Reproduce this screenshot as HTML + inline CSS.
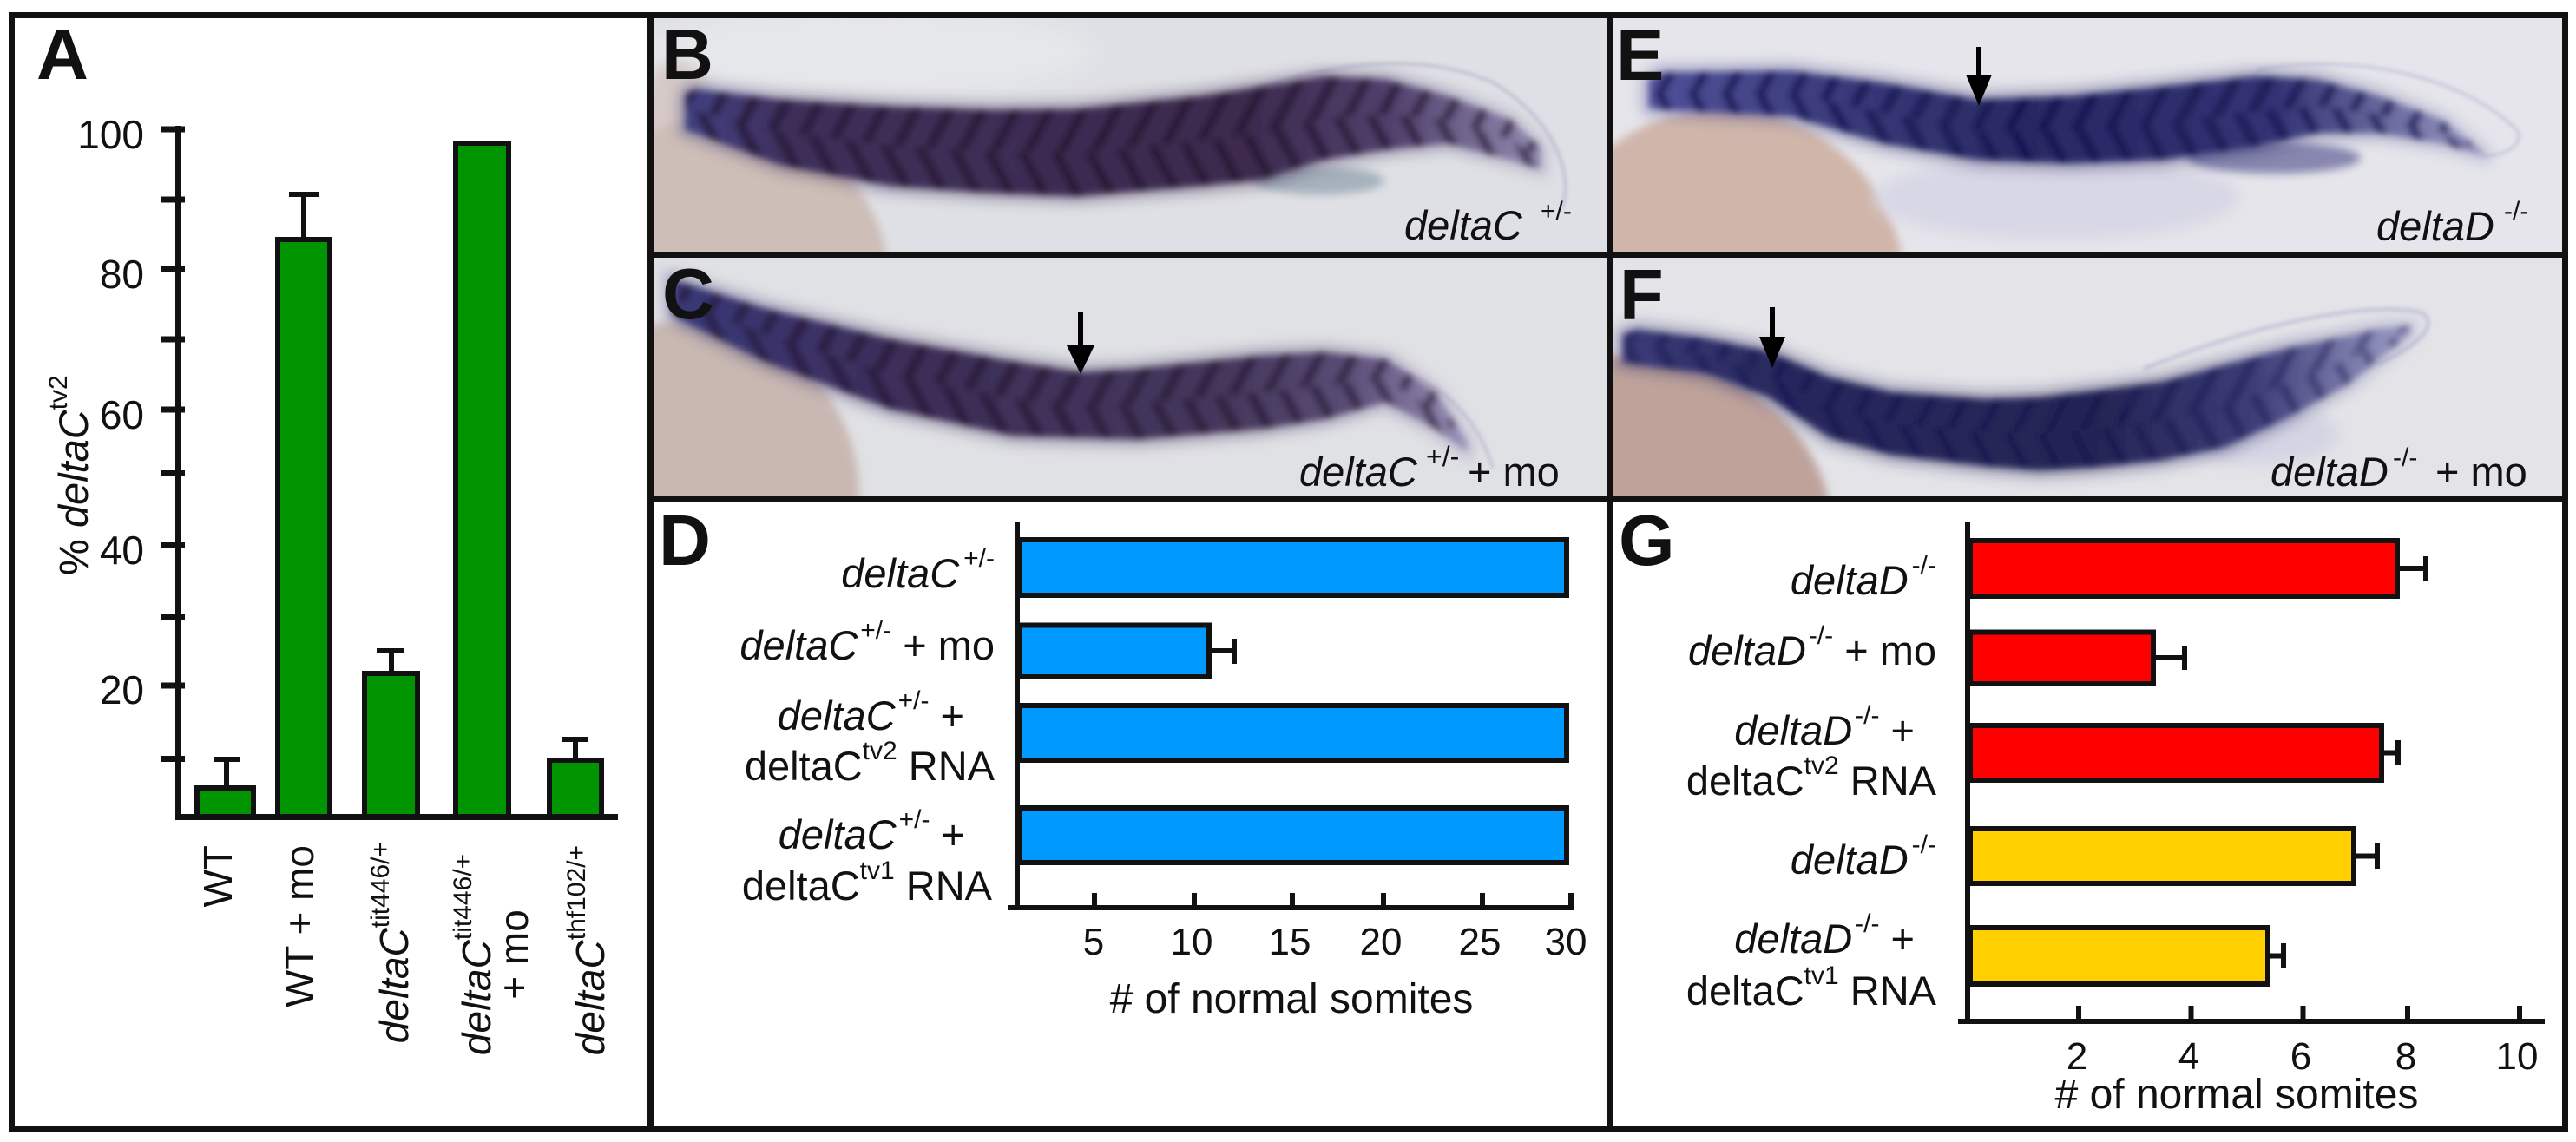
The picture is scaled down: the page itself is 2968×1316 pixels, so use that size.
<!DOCTYPE html>
<html><head><meta charset="utf-8"><style>
html,body{margin:0;padding:0;background:#fff;}
svg{display:block;}
text{fill:#111;}
</style></head><body>
<svg width="2968" height="1316" viewBox="0 0 2968 1316" xmlns="http://www.w3.org/2000/svg" font-family="'Liberation Sans', Arial, sans-serif">
<defs>
<filter id="b2" x="-10%" y="-30%" width="120%" height="160%"><feGaussianBlur stdDeviation="2"/></filter>
<filter id="b4" x="-10%" y="-30%" width="120%" height="160%"><feGaussianBlur stdDeviation="4"/></filter>
<filter id="b5" x="-10%" y="-30%" width="120%" height="160%"><feGaussianBlur stdDeviation="5"/></filter>
<filter id="b8" x="-30%" y="-30%" width="160%" height="160%"><feGaussianBlur stdDeviation="8"/></filter>
<filter id="b12" x="-30%" y="-60%" width="160%" height="220%"><feGaussianBlur stdDeviation="12"/></filter>
<pattern id="pu" width="34" height="10" patternUnits="userSpaceOnUse" patternTransform="rotate(28)"><rect width="11" height="10" fill="#1e1028"/></pattern>
<pattern id="pd" width="34" height="10" patternUnits="userSpaceOnUse" patternTransform="rotate(-28)"><rect width="11" height="10" fill="#1e1028"/></pattern>
<pattern id="nu" width="34" height="10" patternUnits="userSpaceOnUse" patternTransform="rotate(28)"><rect width="11" height="10" fill="#10104a"/></pattern>
<pattern id="nd" width="34" height="10" patternUnits="userSpaceOnUse" patternTransform="rotate(-28)"><rect width="11" height="10" fill="#10104a"/></pattern>
<linearGradient id="gB" gradientUnits="userSpaceOnUse" x1="790" y1="0" x2="1780" y2="0">
<stop offset="0" stop-color="#414082"/><stop offset="0.12" stop-color="#3e2f5a"/><stop offset="0.65" stop-color="#3c2a4e"/><stop offset="0.82" stop-color="#50406c"/><stop offset="1" stop-color="#948cb2"/></linearGradient>
<linearGradient id="gC" gradientUnits="userSpaceOnUse" x1="775" y1="0" x2="1690" y2="0">
<stop offset="0" stop-color="#383878"/><stop offset="0.3" stop-color="#3c2d58"/><stop offset="0.7" stop-color="#45375c"/><stop offset="0.85" stop-color="#5a4c76"/><stop offset="1" stop-color="#9a90b8"/></linearGradient>
<linearGradient id="gE" gradientUnits="userSpaceOnUse" x1="1900" y1="0" x2="2862" y2="0">
<stop offset="0" stop-color="#50509a"/><stop offset="0.25" stop-color="#383878"/><stop offset="0.45" stop-color="#282864"/><stop offset="0.75" stop-color="#323274"/><stop offset="1" stop-color="#9a9ac4"/></linearGradient>
<linearGradient id="gF" gradientUnits="userSpaceOnUse" x1="1870" y1="0" x2="2777" y2="0">
<stop offset="0" stop-color="#3a3a78"/><stop offset="0.2" stop-color="#28285e"/><stop offset="0.6" stop-color="#242454"/><stop offset="0.8" stop-color="#3c3c78"/><stop offset="1" stop-color="#a0a0c8"/></linearGradient>
<clipPath id="cB"><rect x="753" y="21" width="1099" height="269"/></clipPath>
<clipPath id="cC"><rect x="753" y="297" width="1099" height="275"/></clipPath>
<clipPath id="cE"><rect x="1859" y="21" width="1093" height="269"/></clipPath>
<clipPath id="cF"><rect x="1859" y="297" width="1093" height="275"/></clipPath>
</defs>
<rect width="2968" height="1316" fill="#fff"/>

<!-- ===== Photo B ===== -->
<g clip-path="url(#cB)">
<rect x="753" y="21" width="1099" height="269" fill="#dfe0e5"/>
<ellipse cx="1000" cy="60" rx="260" ry="50" fill="#e6e7ea" filter="url(#b12)"/>
<ellipse cx="780" cy="130" rx="40" ry="60" fill="#d6c9c6" filter="url(#b8)"/>
<circle cx="830" cy="330" r="195" fill="#cdbeb7" filter="url(#b5)"/>
<path d="M1440,105 C1540,70 1640,60 1720,95 C1780,130 1815,190 1800,240" fill="none" stroke="#b8b6cc" stroke-width="4" opacity="0.7" filter="url(#b2)"/>
<ellipse cx="1520" cy="208" rx="75" ry="16" fill="#506c80" opacity="0.4" filter="url(#b5)"/>
<polygon fill="url(#gB)" stroke="url(#gB)" stroke-width="16" opacity="0.4" filter="url(#b8)" points="790,108 801,103 900,115 1026,123 1140,127 1240,126 1383,111 1454,100 1525,88 1597,92 1668,111 1740,138 1775,170 1775,195 1740,184 1668,165 1597,172 1525,184 1454,207 1383,214 1240,226 1140,222 1026,214 900,190 801,153 790,150"/>
<g filter="url(#b4)">
<polygon fill="url(#gB)" points="790,108 801,103 900,115 1026,123 1140,127 1240,126 1383,111 1454,100 1525,88 1597,92 1668,111 1740,138 1775,170 1775,195 1740,184 1668,165 1597,172 1525,184 1454,207 1383,214 1240,226 1140,222 1026,214 900,190 801,153 790,150"/>
<polygon fill="url(#pu)" opacity="0.6" points="790,108 801,103 900,115 1026,123 1140,127 1240,126 1383,111 1454,100 1525,88 1597,92 1668,111 1740,138 1775,170 1775,182 1740,161 1668,138 1597,132 1525,136 1454,153 1383,162 1240,176 1140,175 1026,168 900,152 801,128 790,129"/>
<polygon fill="url(#pd)" opacity="0.6" points="790,129 801,128 900,152 1026,168 1140,175 1240,176 1383,162 1454,153 1525,136 1597,132 1668,138 1740,161 1775,182 1775,195 1740,184 1668,165 1597,172 1525,184 1454,207 1383,214 1240,226 1140,222 1026,214 900,190 801,153 790,150"/>
</g>
</g>

<!-- ===== Photo C ===== -->
<g clip-path="url(#cC)">
<rect x="753" y="297" width="1099" height="275" fill="#e0e1e5"/>
<circle cx="790" cy="570" r="200" fill="#c9b8b2" filter="url(#b5)"/>
<path d="M1560,420 C1640,420 1700,470 1720,540" fill="none" stroke="#b4b2ca" stroke-width="4" opacity="0.6" filter="url(#b2)"/>
<polygon fill="url(#gC)" stroke="url(#gC)" stroke-width="16" opacity="0.4" filter="url(#b8)" points="775,322 783,325 883,356 1026,391 1168,417 1245,429 1311,425 1454,410 1525,406 1597,414 1654,452 1690,510 1690,520 1654,494 1597,463 1525,483 1454,494 1311,506 1168,502 1026,471 883,417 783,368 775,362"/>
<g filter="url(#b4)">
<polygon fill="url(#gC)" points="775,322 783,325 883,356 1026,391 1168,417 1245,429 1311,425 1454,410 1525,406 1597,414 1654,452 1690,510 1690,520 1654,494 1597,463 1525,483 1454,494 1311,506 1168,502 1026,471 883,417 783,368 775,362"/>
<polygon fill="url(#pu)" opacity="0.55" points="775,322 783,325 883,356 1026,391 1168,417 1245,429 1311,425 1454,410 1525,406 1597,414 1654,452 1690,510 1690,515 1654,473 1597,438 1525,444 1454,452 1311,465 1245,467 1168,460 1026,431 883,386 783,346 775,342"/>
<polygon fill="url(#pd)" opacity="0.55" points="775,342 783,346 883,386 1026,431 1168,460 1245,467 1311,465 1454,452 1525,444 1597,438 1654,473 1690,515 1690,520 1654,494 1597,463 1525,483 1454,494 1311,506 1168,502 1026,471 883,417 783,368 775,362"/>
</g>
</g>

<!-- ===== Photo E ===== -->
<g clip-path="url(#cE)">
<rect x="1859" y="21" width="1093" height="269" fill="#e5e5eb"/>
<circle cx="1985" cy="335" r="210" fill="#d0b6aa" filter="url(#b5)"/>
<ellipse cx="2370" cy="228" rx="210" ry="48" fill="#d8d7e5" filter="url(#b8)"/>
<path d="M2600,80 C2720,60 2840,90 2900,150 C2910,170 2880,180 2860,180" fill="none" stroke="#bcbcd4" stroke-width="4" opacity="0.6" filter="url(#b2)"/>
<ellipse cx="2620" cy="182" rx="100" ry="18" fill="#4a4a88" opacity="0.6" filter="url(#b5)"/>
<polygon fill="url(#gE)" stroke="url(#gE)" stroke-width="16" opacity="0.4" filter="url(#b8)" points="1900,92 1914,84 2064,82 2171,96 2278,115 2385,111 2492,100 2599,88 2670,92 2741,111 2813,138 2862,176 2862,180 2813,165 2741,153 2670,153 2599,169 2492,184 2385,188 2278,184 2171,165 2064,134 1914,126 1900,124"/>
<g filter="url(#b4)">
<polygon fill="url(#gE)" points="1900,92 1914,84 2064,82 2171,96 2278,115 2385,111 2492,100 2599,88 2670,92 2741,111 2813,138 2862,176 2862,180 2813,165 2741,153 2670,153 2599,169 2492,184 2385,188 2278,184 2171,165 2064,134 1914,126 1900,124"/>
<polygon fill="url(#nu)" opacity="0.65" points="1900,92 1914,84 2064,82 2171,96 2278,115 2385,111 2492,100 2599,88 2670,92 2741,111 2813,138 2862,176 2862,178 2813,152 2741,132 2670,122 2599,128 2492,142 2385,150 2278,150 2171,130 2064,108 1914,105 1900,108"/>
<polygon fill="url(#nd)" opacity="0.65" points="1900,108 1914,105 2064,108 2171,130 2278,150 2385,150 2492,142 2599,128 2670,122 2741,132 2813,152 2862,178 2862,180 2813,165 2741,153 2670,153 2599,169 2492,184 2385,188 2278,184 2171,165 2064,134 1914,126 1900,124"/>
</g>
</g>

<!-- ===== Photo F ===== -->
<g clip-path="url(#cF)">
<rect x="1859" y="297" width="1093" height="275" fill="#e3e3e8"/>
<ellipse cx="1870" cy="610" rx="240" ry="200" fill="#bfa39b" filter="url(#b5)"/>
<ellipse cx="2600" cy="500" rx="95" ry="35" fill="#d4d4e4" filter="url(#b8)"/>
<path d="M2470,425 C2580,380 2720,345 2790,360 C2810,375 2790,395 2740,420" fill="none" stroke="#a8a8ca" stroke-width="4" opacity="0.55" filter="url(#b2)"/>
<polygon fill="url(#gF)" stroke="url(#gF)" stroke-width="16" opacity="0.4" filter="url(#b8)" points="1870,385 1887,380 1965,390 2037,405 2108,435 2179,452 2287,460 2349,458 2418,450 2492,440 2563,421 2634,402 2706,387 2741,379 2777,375 2777,385 2741,414 2706,442 2634,482 2563,515 2492,530 2418,538 2349,542 2287,537 2179,524 2108,504 2037,457 1965,430 1887,420 1870,418"/>
<g filter="url(#b4)">
<polygon fill="url(#gF)" points="1870,385 1887,380 1965,390 2037,405 2108,435 2179,452 2287,460 2349,458 2418,450 2492,440 2563,421 2634,402 2706,387 2741,379 2777,375 2777,385 2741,414 2706,442 2634,482 2563,515 2492,530 2418,538 2349,542 2287,537 2179,524 2108,504 2037,457 1965,430 1887,420 1870,418"/>
<polygon fill="url(#nu)" opacity="0.4" points="1870,385 1887,380 1965,390 2037,405 2108,435 2179,452 2287,460 2349,458 2418,450 2492,440 2563,421 2634,402 2706,387 2741,379 2777,375 2777,380 2741,396 2706,414 2634,442 2563,468 2492,485 2418,494 2349,500 2287,498 2179,488 2108,470 2037,431 1965,410 1887,400 1870,401"/>
<polygon fill="url(#nd)" opacity="0.4" points="1870,401 1887,400 1965,410 2037,431 2108,470 2179,488 2287,498 2349,500 2418,494 2492,485 2563,468 2634,442 2706,414 2741,396 2777,380 2777,385 2741,414 2706,442 2634,482 2563,515 2492,530 2418,538 2349,542 2287,537 2179,524 2108,504 2037,457 1965,430 1887,420 1870,418"/>
</g>
</g>

<!-- ===== Frame ===== -->
<g stroke="#111" stroke-width="7" fill="none">
<rect x="13.5" y="17.5" width="2942" height="1283"/>
<line x1="749.5" y1="14" x2="749.5" y2="1304"/>
<line x1="1855.5" y1="14" x2="1855.5" y2="1304"/>
<line x1="746" y1="293.5" x2="2959" y2="293.5"/>
<line x1="746" y1="575.5" x2="2959" y2="575.5"/>
</g>

<!-- ===== Panel letters ===== -->
<g font-weight="bold" font-size="83">
<text x="42" y="91">A</text>
<text x="762" y="91">B</text>
<text x="763" y="367">C</text>
<text x="759" y="651">D</text>
<text x="1862" y="92">E</text>
<text x="1866" y="368">F</text>
<text x="1865" y="651">G</text>
</g>

<!-- ===== Photo labels ===== -->
<text x="1618" y="276" font-size="47" font-style="italic">deltaC</text>
<text x="1775" y="253" font-size="30">+/-</text>
<text x="1497" y="560" font-size="47" font-style="italic">deltaC</text>
<text x="1643" y="537" font-size="32">+/-</text>
<text x="1691" y="560" font-size="47">+ mo</text>
<text x="2738" y="277" font-size="47" font-style="italic">deltaD</text>
<text x="2885" y="253" font-size="30">-/-</text>
<text x="2616" y="560" font-size="47" font-style="italic">deltaD</text>
<text x="2757" y="537" font-size="30">-/-</text>
<text x="2806" y="560" font-size="47">+ mo</text>

<!-- arrows -->
<g fill="#000" stroke="#000">
<line x1="1245" y1="360" x2="1245" y2="400" stroke-width="6"/>
<polygon points="1229,398 1261,398 1245,431" stroke="none"/>
<line x1="2280" y1="54" x2="2280" y2="88" stroke-width="6"/>
<polygon points="2265,86 2295,86 2280,122" stroke="none"/>
<line x1="2042" y1="354" x2="2042" y2="390" stroke-width="6"/>
<polygon points="2027,388 2057,388 2042,424" stroke="none"/>
</g>

<!-- ===== Panel A chart ===== -->
<g stroke="#111" stroke-width="6" fill="#009400">
<rect x="227" y="908" width="65" height="34"/>
<rect x="320" y="276" width="60" height="666"/>
<rect x="420" y="776" width="61" height="166"/>
<rect x="525" y="165" width="61" height="777"/>
<rect x="633" y="876" width="60" height="66"/>
</g>
<g stroke="#111" stroke-width="6" fill="none">
<line x1="261" y1="905" x2="261" y2="875"/><line x1="246" y1="875" x2="277" y2="875"/>
<line x1="350" y1="273" x2="350" y2="224"/><line x1="333" y1="224" x2="367" y2="224"/>
<line x1="451" y1="773" x2="451" y2="750"/><line x1="434" y1="750" x2="466" y2="750"/>
<line x1="663" y1="873" x2="663" y2="852"/><line x1="647" y1="852" x2="678" y2="852"/>
</g>
<g stroke="#111" stroke-width="7">
<line x1="205.5" y1="145" x2="205.5" y2="945"/>
<line x1="202" y1="941.5" x2="712" y2="941.5"/>
<line x1="185" y1="149" x2="213" y2="149"/>
<line x1="185" y1="230" x2="213" y2="230"/>
<line x1="185" y1="310.5" x2="213" y2="310.5"/>
<line x1="185" y1="391" x2="213" y2="391"/>
<line x1="185" y1="472" x2="213" y2="472"/>
<line x1="185" y1="545.5" x2="213" y2="545.5"/>
<line x1="185" y1="628.5" x2="213" y2="628.5"/>
<line x1="185" y1="711.5" x2="213" y2="711.5"/>
<line x1="185" y1="790" x2="213" y2="790"/>
<line x1="185" y1="874.5" x2="213" y2="874.5"/>
</g>
<g font-size="46" text-anchor="end">
<text x="166" y="171">100</text>
<text x="166" y="332">80</text>
<text x="166" y="494">60</text>
<text x="166" y="650">40</text>
<text x="166" y="811">20</text>
</g>
<text transform="translate(101,663) rotate(-90)" font-size="47">% <tspan font-style="italic">deltaC</tspan><tspan dy="-24" font-size="30">tv2</tspan></text>
<g font-size="46">
<text transform="translate(267,974) rotate(-90)" text-anchor="end">WT</text>
<text transform="translate(361,974) rotate(-90)" text-anchor="end">WT + mo</text>
<text transform="translate(470,970) rotate(-90)" text-anchor="end"><tspan font-style="italic">deltaC</tspan><tspan dy="-22" font-size="30">tit446/+</tspan></text>
<text transform="translate(565,1100) rotate(-90)" text-anchor="middle"><tspan font-style="italic">deltaC</tspan><tspan dy="-22" font-size="30">tit446/+</tspan></text>
<text transform="translate(608,1100) rotate(-90)" text-anchor="middle">+ mo</text>
<text transform="translate(696,974) rotate(-90)" text-anchor="end"><tspan font-style="italic">deltaC</tspan><tspan dy="-22" font-size="30">thf102/+</tspan></text>
</g>

<!-- ===== Panel D chart ===== -->
<g stroke="#111" stroke-width="6" fill="#0099ff">
<rect x="1175" y="622" width="630" height="64"/>
<rect x="1175" y="720.5" width="218" height="59.5"/>
<rect x="1175" y="813" width="630" height="63"/>
<rect x="1175" y="931" width="630" height="63"/>
</g>
<g stroke="#111" stroke-width="6" fill="none">
<line x1="1396" y1="750" x2="1422" y2="750"/><line x1="1422" y1="736" x2="1422" y2="765"/>
<line x1="1172" y1="601" x2="1172" y2="1049"/>
<line x1="1161" y1="1046" x2="1813" y2="1046"/>
<line x1="1261" y1="1029" x2="1261" y2="1046"/>
<line x1="1376" y1="1029" x2="1376" y2="1046"/>
<line x1="1489" y1="1029" x2="1489" y2="1046"/>
<line x1="1594" y1="1029" x2="1594" y2="1046"/>
<line x1="1708" y1="1029" x2="1708" y2="1046"/>
<line x1="1810" y1="1029" x2="1810" y2="1046"/>
</g>
<g font-size="44" text-anchor="middle">
<text x="1260" y="1100">5</text>
<text x="1373" y="1100">10</text>
<text x="1486" y="1100">15</text>
<text x="1591" y="1100">20</text>
<text x="1705" y="1100">25</text>
<text x="1804" y="1100">30</text>
</g>
<text x="1488" y="1167" font-size="48" text-anchor="middle"># of normal somites</text>
<g font-size="47" text-anchor="end">
<text x="1146" y="677"><tspan font-style="italic">deltaC</tspan><tspan dx="5" dy="-24" font-size="30">+/-</tspan></text>
<text x="1146" y="760"><tspan font-style="italic">deltaC</tspan><tspan dx="3" dy="-24" font-size="30">+/-</tspan><tspan dy="24"> + mo</tspan></text>
<text x="1111" y="841"><tspan font-style="italic">deltaC</tspan><tspan dx="3" dy="-24" font-size="30">+/-</tspan><tspan dy="24"> +</tspan></text>
<text x="1146" y="899">deltaC<tspan dy="-24" font-size="30">tv2</tspan><tspan dy="24"> RNA</tspan></text>
<text x="1112" y="978"><tspan font-style="italic">deltaC</tspan><tspan dx="3" dy="-24" font-size="30">+/-</tspan><tspan dy="24"> +</tspan></text>
<text x="1143" y="1037">deltaC<tspan dy="-24" font-size="30">tv1</tspan><tspan dy="24"> RNA</tspan></text>
</g>

<!-- ===== Panel G chart ===== -->
<g stroke="#111" stroke-width="6">
<rect x="2270" y="623" width="492" height="64" fill="#ff0000"/>
<rect x="2270" y="728.5" width="211" height="59.5" fill="#ff0000"/>
<rect x="2270" y="836" width="474" height="63" fill="#ff0000"/>
<rect x="2270" y="955" width="442" height="63" fill="#ffcf00"/>
<rect x="2270" y="1069" width="343" height="65" fill="#ffcf00"/>
</g>
<g stroke="#111" stroke-width="6" fill="none">
<line x1="2765" y1="655" x2="2795" y2="655"/><line x1="2795" y1="641" x2="2795" y2="670"/>
<line x1="2484" y1="758" x2="2517" y2="758"/><line x1="2517" y1="744" x2="2517" y2="772"/>
<line x1="2747" y1="867.5" x2="2763" y2="867.5"/><line x1="2763" y1="853" x2="2763" y2="882"/>
<line x1="2715" y1="986.5" x2="2739" y2="986.5"/><line x1="2739" y1="972" x2="2739" y2="1001"/>
<line x1="2615" y1="1101.5" x2="2631" y2="1101.5"/><line x1="2631" y1="1087" x2="2631" y2="1116"/>
<line x1="2267" y1="602" x2="2267" y2="1180"/>
<line x1="2256" y1="1177" x2="2932" y2="1177"/>
<line x1="2395" y1="1159" x2="2395" y2="1177"/>
<line x1="2524.5" y1="1159" x2="2524.5" y2="1177"/>
<line x1="2653.5" y1="1159" x2="2653.5" y2="1177"/>
<line x1="2774" y1="1159" x2="2774" y2="1177"/>
<line x1="2903" y1="1159" x2="2903" y2="1177"/>
</g>
<g font-size="44" text-anchor="middle">
<text x="2393" y="1232">2</text>
<text x="2522" y="1232">4</text>
<text x="2651" y="1232">6</text>
<text x="2772" y="1232">8</text>
<text x="2900" y="1232">10</text>
</g>
<text x="2577" y="1277" font-size="48" text-anchor="middle"># of normal somites</text>
<g font-size="47" text-anchor="end">
<text x="2231" y="685"><tspan font-style="italic">deltaD</tspan><tspan dx="4" dy="-24" font-size="30">-/-</tspan></text>
<text x="2231" y="766"><tspan font-style="italic">deltaD</tspan><tspan dx="3" dy="-24" font-size="30">-/-</tspan><tspan dy="24"> + mo</tspan></text>
<text x="2206" y="858"><tspan font-style="italic">deltaD</tspan><tspan dx="3" dy="-24" font-size="30">-/-</tspan><tspan dy="24"> +</tspan></text>
<text x="2231" y="916">deltaC<tspan dy="-24" font-size="30">tv2</tspan><tspan dy="24"> RNA</tspan></text>
<text x="2231" y="1007"><tspan font-style="italic">deltaD</tspan><tspan dx="4" dy="-24" font-size="30">-/-</tspan></text>
<text x="2206" y="1098"><tspan font-style="italic">deltaD</tspan><tspan dx="3" dy="-24" font-size="30">-/-</tspan><tspan dy="24"> +</tspan></text>
<text x="2231" y="1158">deltaC<tspan dy="-24" font-size="30">tv1</tspan><tspan dy="24"> RNA</tspan></text>
</g>
</svg>
</body></html>
